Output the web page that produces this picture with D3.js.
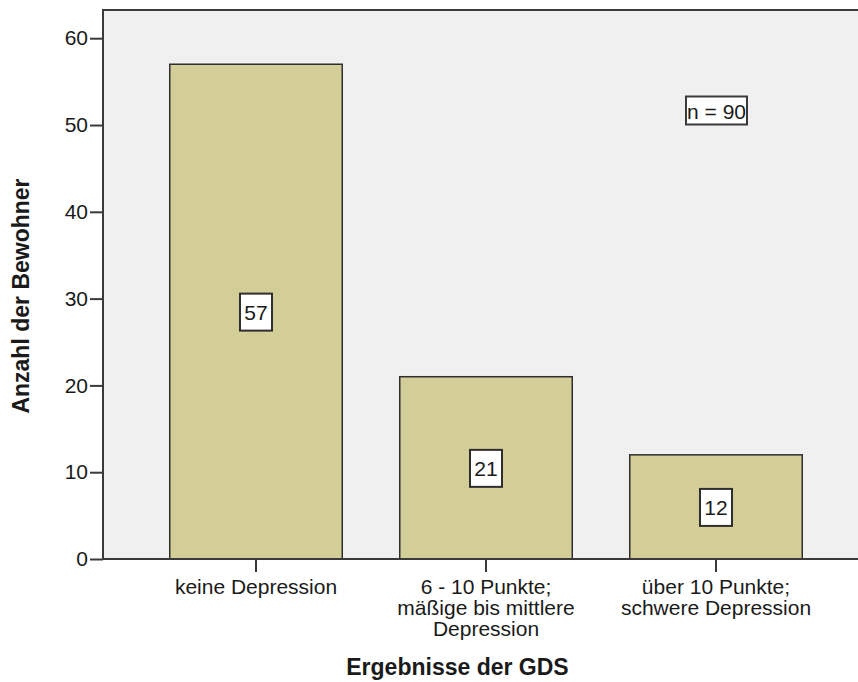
<!DOCTYPE html>
<html>
<head>
<meta charset="utf-8">
<script src="https://cdn.jsdelivr.net/npm/d3@7"></script>
<style>
  body { margin: 0; background: #fff; }
  svg text { font-family: Arial, "Liberation Sans", sans-serif; fill: #1a1a1a; }
</style>
</head>
<body>
<div id="chart"></div>
<script>
// Data
const categories = ['keine Depression', '6 - 10 Punkte;\nmäßige bis mittlere\nDepression', 'über 10 Punkte;\nschwere Depression'];
const counts = [57, 21, 12];
const yTicks = [0, 10, 20, 30, 40, 50, 60];
const yTitle = 'Anzahl der Bewohner';
const xTitle = 'Ergebnisse der GDS';
const noteText = 'n = 90';

const width = 858, height = 682;
const plot = { left: 103, top: 10, bottom: 559, right: 870 };

const svg = d3.select('#chart')
  .append('svg')
  .attr('width', width)
  .attr('height', height);

// Scales
const x = d3.scaleBand()
  .domain(d3.range(categories.length))
  .range([141, 831])
  .paddingInner(0.25)
  .paddingOuter(0.125);

const y = d3.scaleLinear()
  .domain([0, 63.25])
  .range([plot.bottom, plot.top]);

// Plot background
svg.append('rect')
  .attr('x', plot.left)
  .attr('y', plot.top)
  .attr('width', plot.right - plot.left)
  .attr('height', plot.bottom - plot.top)
  .attr('fill', '#f0f0f0');

// Bars
svg.selectAll('.bar')
  .data(counts)
  .enter()
  .append('rect')
  .attr('class', 'bar')
  .attr('x', (d, i) => x(i))
  .attr('y', d => y(d))
  .attr('width', x.bandwidth())
  .attr('height', d => y(0) - y(d))
  .attr('fill', '#d3ce97')
  .attr('stroke', '#2e2e2e')
  .attr('stroke-width', 1.5);

// Frame lines (top and left)
svg.append('path')
  .attr('d', `M${plot.right},${plot.top}H${plot.left}V${plot.bottom}`)
  .attr('fill', 'none')
  .attr('stroke', '#3a3a3a')
  .attr('stroke-width', 2);

// Y axis
const yAxis = svg.append('g')
  .attr('transform', `translate(${plot.left},0)`)
  .call(d3.axisLeft(y).tickValues(yTicks).tickSize(13).tickPadding(2).tickSizeOuter(0));
yAxis.select('.domain').remove();
yAxis.selectAll('line').attr('stroke', '#3a3a3a').attr('stroke-width', 2);
yAxis.selectAll('text').style('font-size', '21px').attr('fill', '#1a1a1a');

// X axis
const xAxis = svg.append('g')
  .attr('transform', `translate(0,${plot.bottom})`)
  .call(d3.axisBottom(x).tickSize(13).tickSizeOuter(0).tickFormat(''));
xAxis.select('.domain')
  .attr('d', `M${plot.left},0H${plot.right}`)
  .attr('stroke', '#3a3a3a')
  .attr('stroke-width', 2);
xAxis.selectAll('line').attr('stroke', '#3a3a3a').attr('stroke-width', 2);

// Multi-line category labels
xAxis.selectAll('.tick').each(function(d) {
  const lines = categories[d].split('\n');
  const t = d3.select(this).append('text')
    .attr('text-anchor', 'middle')
    .style('font-size', '21px')
    .attr('fill', '#1a1a1a');
  lines.forEach((line, k) => {
    t.append('tspan')
      .attr('x', 0)
      .attr('y', 35 + k * 21)
      .text(line);
  });
});

// Value labels in boxes at bar middle
const labels = svg.selectAll('.value')
  .data(counts)
  .enter()
  .append('g')
  .attr('class', 'value')
  .attr('transform', (d, i) => `translate(${x(i) + x.bandwidth() / 2},${y(d / 2)})`);

labels.append('rect')
  .attr('x', -16)
  .attr('y', -18)
  .attr('width', 32)
  .attr('height', 37)
  .attr('fill', '#fff')
  .attr('stroke', '#2e2e2e')
  .attr('stroke-width', 2);

labels.append('text')
  .attr('text-anchor', 'middle')
  .attr('y', 8)
  .style('font-size', '21px')
  .text(d => d);

// n = 90 note
const note = svg.append('g')
  .attr('transform', 'translate(716.5,110.5)');
note.append('rect')
  .attr('x', -30.5)
  .attr('y', -14)
  .attr('width', 61)
  .attr('height', 28)
  .attr('fill', '#fff')
  .attr('stroke', '#3a3a3a')
  .attr('stroke-width', 2);
note.append('text')
  .attr('text-anchor', 'middle')
  .attr('y', 8)
  .style('font-size', '21px')
  .text(noteText);

// Axis titles
svg.append('text')
  .attr('text-anchor', 'middle')
  .attr('x', 457.5)
  .attr('y', 675)
  .style('font-size', '23px')
  .style('font-weight', 'bold')
  .attr('fill', '#000')
  .text(xTitle);

svg.append('text')
  .attr('text-anchor', 'middle')
  .attr('transform', 'translate(28.5,296) rotate(-90)')
  .style('font-size', '23px')
  .style('font-weight', 'bold')
  .attr('fill', '#000')
  .text(yTitle);
</script>
</body>
</html>
